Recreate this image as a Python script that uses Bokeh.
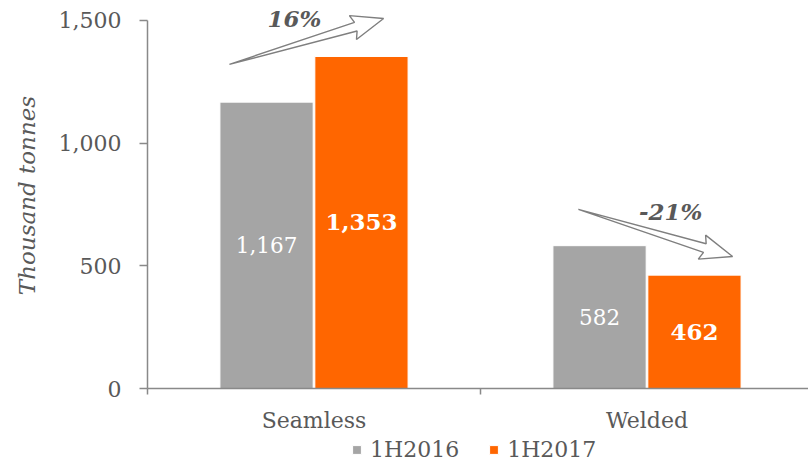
import math
from bokeh.plotting import figure
from bokeh.models import (ColumnDataSource, Range1d, FixedTicker, NumeralTickFormatter,
                          Legend, LegendItem)
from bokeh.layouts import column
from bokeh.transform import dodge
from bokeh.embed import file_html
from bokeh.resources import INLINE
from bokeh.core.properties import value

# ---- data ----
categories = ["Seamless", "Welded"]
series_names = ["1H2016", "1H2017"]
values_2016 = [1167, 582]
values_2017 = [1353, 462]
y_ticks = [0, 500, 1000, 1500]

# annotation arrows (data coordinates: tail, tip) and % labels
arrow_tails = [(0.246, 1321), (1.294, 730)]
arrow_tips = [(0.709, 1508), (1.757, 538)]
pct_label_pos = [(0.441, 1508), (1.571, 721)]

FONT = "DejaVu Serif"
TXT = "#595959"
AXIS = "#898989"
GREY = "#A5A5A5"
ORANGE = "#FF6600"

FW, FH = 661, 386
X_END, Y_END = 1.985, 1573
ML, MR, MT = 147, 0, 2

p = figure(frame_width=FW, frame_height=FH, x_range=Range1d(0, X_END), y_range=Range1d(0, Y_END),
           output_backend="svg", toolbar_location=None,
           min_border_left=ML, min_border_right=MR, min_border_top=MT, min_border_bottom=0)
p.xgrid.visible = False
p.ygrid.visible = False
p.outline_line_color = None
p.background_fill_color = "white"

xs = [i + 0.5 for i in range(len(categories))]
src = ColumnDataSource(dict(
    x=xs, y16=values_2016, y17=values_2017,
    m16=[v / 2 for v in values_2016], m17=[v / 2 for v in values_2017],
    l16=[f"{v:,}" for v in values_2016], l17=[f"{v:,}" for v in values_2017],
))

OFF, BW = 0.1425, 0.28
r1 = p.vbar(x=dodge("x", -OFF), top="y16", width=BW, source=src,
            fill_color=GREY, line_color="white", line_width=1)
r2 = p.vbar(x=dodge("x", OFF), top="y17", width=BW, source=src,
            fill_color=ORANGE, line_color="white", line_width=1)

p.text(x=dodge("x", -OFF), y="m16", text="l16", source=src, text_color="white",
       text_font=value(FONT), text_font_size="21.5px", text_align="center",
       text_baseline="middle")
p.text(x=dodge("x", OFF), y="m17", text="l17", source=src, text_color="white",
       text_font=value(FONT), text_font_size="23px", text_font_style="bold",
       text_align="center", text_baseline="middle")

# ---- arrows (hollow block arrows) ----
sx = FW / X_END
sy = FH / Y_END
axs, ays = [], []
for (tx, ty), (hx, hy) in zip(arrow_tails, arrow_tips):
    px0, py0 = tx * sx, ty * sy
    px1, py1 = hx * sx, hy * sy
    dx, dy = px1 - px0, py1 - py0
    L = math.hypot(dx, dy)
    ux, uy = dx / L, dy / L
    nx, ny = -uy, ux
    local = [(0, 0), (L - 29, 4.5), (L - 32, 12.5), (L, 0), (L - 32, -12.5), (L - 29, -4.5)]
    pts = [(px0 + a * ux + b * nx, py0 + a * uy + b * ny) for a, b in local]
    axs.append([q[0] / sx for q in pts])
    ays.append([q[1] / sy for q in pts])
p.patches(axs, ays, fill_color="white", line_color="#7F7F7F", line_width=1.4)

pct_text = [f"{round((b / a - 1) * 100):d}%" for a, b in zip(values_2016, values_2017)]
p.text(x=[q[0] for q in pct_label_pos], y=[q[1] for q in pct_label_pos], text=pct_text,
       text_color=TXT, text_font=value(FONT), text_font_size="23px",
       text_font_style="bold italic", text_align="center", text_baseline="middle")

# ---- axes ----
xa = p.xaxis[0]
xa.axis_label = None
xa.ticker = FixedTicker(ticks=xs, minor_ticks=[0, 1, 2])
xa.major_label_overrides = {x: c for x, c in zip(xs, categories)}
xa.major_tick_line_color = None
xa.major_tick_out = 0
xa.major_tick_in = 0
xa.minor_tick_out = 6
xa.minor_tick_in = 0
xa.minor_tick_line_color = AXIS
xa.minor_tick_line_width = 1.5
xa.axis_line_color = AXIS
xa.axis_line_width = 1.5
xa.major_label_text_font = FONT
xa.major_label_text_font_size = "22px"
xa.major_label_text_color = TXT
xa.major_label_standoff = 13

ya = p.yaxis[0]
ya.ticker = FixedTicker(ticks=y_ticks)
ya.formatter = NumeralTickFormatter(format="0,0")
ya.bounds = (0, 1500)
ya.major_tick_out = 8
ya.major_tick_in = 0
ya.minor_tick_line_color = None
ya.major_tick_line_color = AXIS
ya.major_tick_line_width = 1.5
ya.axis_line_color = AXIS
ya.axis_line_width = 1.5
ya.major_label_text_font = FONT
ya.major_label_text_font_size = "22px"
ya.major_label_text_color = TXT
ya.major_label_standoff = 18
ya.axis_label = "Thousand tonnes"
ya.axis_label_text_font = FONT
ya.axis_label_text_font_size = "23px"
ya.axis_label_text_font_style = "italic"
ya.axis_label_text_color = TXT
ya.axis_label_standoff = 16

# ---- legend strip (own small figure under the chart; frame aligned with chart) ----
leg = figure(width=ML + FW + MR, height=28, output_backend="svg", toolbar_location=None,
             x_axis_location=None, y_axis_location=None,
             x_range=Range1d(0, 1), y_range=Range1d(0, 1), min_border=0)
leg.xgrid.visible = False
leg.ygrid.visible = False
leg.outline_line_color = None
# swatch renderers: their single bar lies outside the visible range, only the legend shows them
g1 = leg.vbar(x=[5], top=[1], width=0.1, fill_color=GREY, line_color="white")
g2 = leg.vbar(x=[5], top=[1], width=0.1, fill_color=ORANGE, line_color="white")
legend = Legend(items=[LegendItem(label=series_names[0], renderers=[g1]),
                       LegendItem(label=series_names[1], renderers=[g2])],
                orientation="horizontal", location=(204, 1),
                border_line_color=None, background_fill_alpha=0,
                label_text_font=FONT, label_text_font_size="22px", label_text_color=TXT,
                glyph_width=11, glyph_height=11, spacing=29,
                padding=0, margin=0, label_standoff=8)
leg.add_layout(legend, "center")

layout = column(p, leg, spacing=0)
open("out.html", "w").write(file_html(layout, INLINE))
